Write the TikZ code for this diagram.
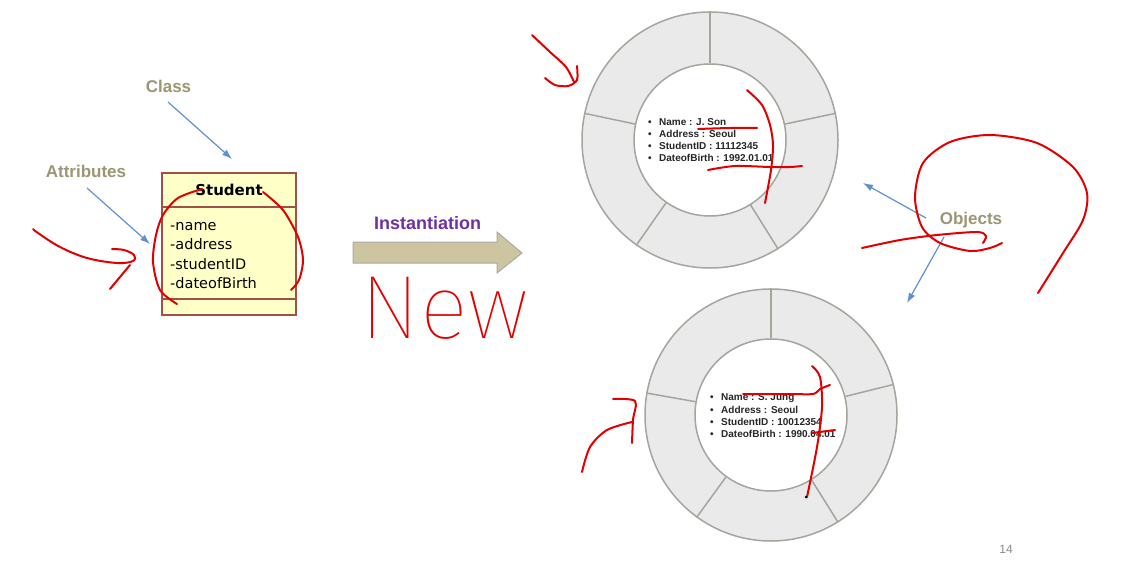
\documentclass[tikz,border=0pt]{standalone}
\usepackage{fontspec}
\setmainfont{Liberation Sans}
\newfontfamily\dejavu{DejaVu Sans}
\newfontfamily\hand{Fira Sans Thin}
\usetikzlibrary{arrows.meta}
\definecolor{lblcol}{RGB}{155,150,115}
\definecolor{ptrcol}{RGB}{95,145,205}
\definecolor{inkred}{RGB}{225,0,0}
\definecolor{boxfill}{RGB}{255,255,200}
\definecolor{boxline}{RGB}{160,80,70}
\definecolor{ringfill}{RGB}{234,234,234}
\definecolor{ringline}{RGB}{165,165,158}
\definecolor{arrfill}{RGB}{205,196,160}
\definecolor{arrline}{RGB}{170,170,165}
\definecolor{instcol}{RGB}{112,48,160}
\begin{document}
\begin{tikzpicture}[x=1pt,y=-1pt,
  lbl/.style={text=lblcol, font=\bfseries\fontsize{17}{17}\selectfont, inner sep=0, anchor=base},
  ptr/.style={draw=ptrcol, line width=1.2pt, -{Latex[length=10pt,width=7pt]}},
  ink/.style={draw=inkred, line width=2pt, line cap=round, line join=round},
  attr/.style={font=\dejavu\fontsize{14.5}{17}\selectfont, anchor=base west, inner sep=0},
  objtext/.style={font=\bfseries\fontsize{10}{12}\selectfont, text=black!85, anchor=base west, inner sep=0},
  ringout/.style={circle, draw=ringline, fill=ringfill, line width=1.5pt, inner sep=0, minimum size=#1},
  ringin/.style={circle, draw=ringline, fill=white, line width=1.5pt, inner sep=0, minimum size=#1},
  divider/.style={draw=ringline, line width=1.5pt}
]
\useasboundingbox[fill=white] (0,0) rectangle (1127,565);

% ---------- class box ----------
\node[draw=boxline, fill=boxfill, line width=1.5pt, minimum width=134, minimum height=142, inner sep=0] (box) at (229,244) {};
\draw[boxline, line width=1.5pt] (162,207) -- (296,207);
\draw[boxline, line width=1.5pt] (162,299) -- (296,299);
\node[font=\dejavu\bfseries\fontsize{15}{15}\selectfont, anchor=base, inner sep=0] (hdr) at (229,195) {Student};
\node[attr] (a1) at (170,230) {-name};
\node[attr] (a2) at (170,249.5) {-address};
\node[attr] (a3) at (170,269) {-studentID};
\node[attr] (a4) at (170,288.5) {-dateofBirth};

% ---------- labels and pointers ----------
\node[lbl] (cls) at (168.5,92) {Class};
\node[lbl] (att) at (86,177) {Attributes};
\node[lbl] (obj) at (971,224) {Objects};
\coordinate (clsS) at (168,102);
\coordinate (clsE) at (232,159);
\coordinate (attS) at (87,188);
\coordinate (attE) at (150,244);
\coordinate (objS1) at (926,218);
\coordinate (objE1) at (863,183);
\coordinate (objS2) at (944,237);
\coordinate (objE2) at (907,303);
\draw[ptr] (clsS) -- (clsE);
\draw[ptr] (attS) -- (attE);
\draw[ptr] (objS1) -- (objE1);
\draw[ptr] (objS2) -- (objE2);

% ---------- instantiation arrow ----------
\node[text=instcol, font=\bfseries\fontsize{18}{18}\selectfont, anchor=base, inner sep=0] (inst) at (427.5,229) {Instantiation};
\draw[fill=arrfill, draw=arrline, line width=1pt] (353,242) -- (497,242) -- (497,232) -- (522,253) -- (497,273) -- (497,263) -- (353,263) -- cycle;

% ---------- object ring 1 ----------
\node[ringout=256] (r1) at (710,140) {};
\node[ringin=152] (i1) at (710,140) {};
\foreach \a in {90,12,-58,-125,168} \draw[divider] (i1.\a) -- (r1.\a);
\node[objtext] (o11) at (648,125) {\makebox[11pt][l]{•}Name : J. Son};
\node[objtext] (o12) at (648,137) {\makebox[11pt][l]{•}Address : Seoul};
\node[objtext] (o13) at (648,149) {\makebox[11pt][l]{•}StudentID : 11112345};
\node[objtext] (o14) at (648,161) {\makebox[11pt][l]{•}DateofBirth : 1992.01.01};

% ---------- object ring 2 ----------
\node[ringout=252] (r2) at (771,415) {};
\node[ringin=152] (i2) at (771,415) {};
\foreach \a in {90,14,-58,-126,170} \draw[divider] (i2.\a) -- (r2.\a);
\node[objtext] (o21) at (710,400.5) {\makebox[11pt][l]{•}Name : S. Jung};
\node[objtext] (o22) at (710,413) {\makebox[11pt][l]{•}Address : Seoul};
\node[objtext] (o23) at (710,425) {\makebox[11pt][l]{•}StudentID : 10012354};
\node[objtext] (o24) at (710,437.5) {\makebox[11pt][l]{•}DateofBirth : 1990.04.01};

% ---------- page number ----------
\node[text=black!45, font=\fontsize{12}{12}\selectfont, anchor=base, inner sep=0] (pg) at (1006,553) {14};

% ---------- handwritten annotations ----------
\node[text=inkred, font=\hand\fontsize{90}{90}\selectfont, anchor=base, inner sep=0] (new) at (445,338) {New};
\draw[ink] plot[smooth, tension=0.6] coordinates {(33,229) (38,233) (60,247) (87,258) (117,263) (133,261) (134,255) (124,250) (112,249)};
\draw[ink] (130,265) -- (110,289);
\draw[ink] plot[smooth] coordinates {(177,304) (160,290) (153,262) (156,235) (163,215) (178,198) (202,189)};
\draw[ink] plot[smooth] coordinates {(263,192) (283,210) (298,237) (303,260) (299,280) (291,290)};
\draw[ink] plot[smooth] coordinates {(532,35) (550,52) (566,67) (574,82)};
\draw[ink] plot[smooth] coordinates {(577,66) (577,80) (568,86) (555,85) (545,78)};
\draw[ink] plot[smooth] coordinates {(747,90) (762,105) (770,125) (773,145) (771,170) (765,203)};
\draw[ink] plot[smooth] coordinates {(698,129) (730,128) (757,128)};
\draw[ink] plot[smooth] coordinates {(708,170) (735,166) (770,167) (790,167) (802,166)};
\draw[ink] plot[smooth] coordinates {(1038,293) (1063,253) (1083,220) (1087,193) (1073,167) (1037,143) (990,135) (950,142) (923,163) (915,197) (922,227) (940,243) (970,251) (990,248) (1002,243)};
\draw[ink] plot[smooth] coordinates {(862,248) (900,240) (937,235) (977,232) (986,236) (983,243)};
\draw[ink] plot[smooth] coordinates {(812,366) (820,377) (822,407) (817,447) (807,497)};
\fill[black] (806,497) circle (1.5);
\draw[ink] plot[smooth] coordinates {(743,394) (790,394) (813,394) (820,389) (830,385)};
\draw[ink] (812,433) -- (835,430);
\draw[ink] plot[smooth] coordinates {(582,472) (590,447) (607,430) (632,422)};
\draw[ink] plot[smooth] coordinates {(613,399) (635,401) (633,420) (632,443)};
\end{tikzpicture}
\end{document}
